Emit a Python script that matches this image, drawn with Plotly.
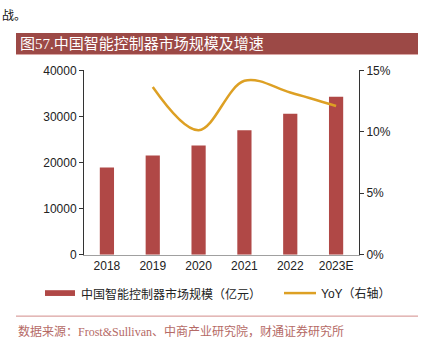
import plotly.graph_objects as go

years = ["2018", "2019", "2020", "2021", "2022", "2023E"]
market_size = [18900, 21500, 23700, 27000, 30600, 34300]
yoy_years = ["2019", "2020", "2021", "2022", "2023E"]
yoy = [0.1365, 0.1013, 0.1415, 0.132, 0.121]

W, H = 431, 350
def px(x):
    return x / W
def py(y):
    return 1 - y / H

bar_color = "#B04846"
line_color = "#DDA024"

fig = go.Figure()
fig.add_trace(go.Bar(x=years, y=market_size, marker=dict(color=bar_color, line=dict(width=0)),
                     name="中国智能控制器市场规模（亿元）", showlegend=False))
fig.add_trace(go.Scatter(x=yoy_years, y=yoy, yaxis="y2", mode="lines",
                         line=dict(color=line_color, width=2.5, shape="spline", smoothing=1.0),
                         name="YoY（右轴）", showlegend=False))

tick_font = dict(family="Liberation Sans, Arial, sans-serif", size=12, color="#222")

fig.update_layout(
    width=W, height=H,
    margin=dict(l=0, r=0, t=0, b=0),
    paper_bgcolor="white", plot_bgcolor="white",
    bargap=0.69,
    xaxis=dict(domain=[px(84), px(359)], showgrid=False, showline=True, linecolor="#A0A0A0",
               linewidth=1, ticks="", tickfont=tick_font, anchor="y"),
    yaxis=dict(domain=[py(258), py(66)], range=[0, 40000], dtick=10000, tickformat="d", showgrid=False,
               showline=True, linecolor="#333", linewidth=1, ticks="outside", ticklen=4,
               tickcolor="#333", tickfont=tick_font, zeroline=False, anchor="x"),
    yaxis2=dict(range=[0, 0.15], dtick=0.05, tickformat=".0%", overlaying="y", side="right",
                showgrid=False, showline=True, linecolor="#333", linewidth=1, ticks="outside",
                ticklen=4, tickcolor="#333", tickfont=tick_font, zeroline=False, anchor="x"),
    showlegend=False,
)

shapes = []
# title banner
shapes.append(dict(type="rect", xref="paper", yref="paper", x0=px(16), x1=px(418), y0=py(49), y1=py(27),
                   fillcolor="#9C4946", line=dict(width=0), layer="below"))
shapes.append(dict(type="line", xref="paper", yref="paper", x0=px(16), x1=px(418), y0=py(49.5), y1=py(49.5),
                   line=dict(color="#D9A5A3", width=1)))
# legend swatches
shapes.append(dict(type="rect", xref="paper", yref="paper", x0=px(45), x1=px(75), y0=py(301), y1=py(295),
                   fillcolor=bar_color, line=dict(width=0)))
shapes.append(dict(type="line", xref="paper", yref="paper", x0=px(284), x1=px(316), y0=py(298), y1=py(298),
                   line=dict(color=line_color, width=2.5)))
# bottom separator
shapes.append(dict(type="line", xref="paper", yref="paper", x0=px(16), x1=px(418), y0=py(322), y1=py(322),
                   line=dict(color="#D28C8A", width=1)))

annotations = []
annotations.append(dict(text="战。", xref="paper", yref="paper", x=0, y=py(8), xanchor="left",
                        yanchor="middle", showarrow=False,
                        font=dict(family="Noto Sans CJK SC", size=12, color="#111")))
annotations.append(dict(text="图57.中国智能控制器市场规模及增速", xref="paper", yref="paper", x=px(18), y=py(38),
                        xanchor="left", yanchor="middle", showarrow=False,
                        font=dict(family="Liberation Serif, Noto Sans CJK SC", size=15, color="white")))
annotations.append(dict(text="中国智能控制器市场规模（亿元）", xref="paper", yref="paper", x=px(79), y=py(298),
                        xanchor="left", yanchor="middle", showarrow=False,
                        font=dict(family="Noto Sans CJK SC", size=12, color="#222")))
annotations.append(dict(text="YoY（右轴）", xref="paper", yref="paper", x=px(319), y=py(298),
                        xanchor="left", yanchor="middle", showarrow=False,
                        font=dict(family="Liberation Sans, Noto Sans CJK SC", size=12, color="#222")))
annotations.append(dict(text="数据来源：Frost&Sullivan、中商产业研究院，财通证券研究所", xref="paper", yref="paper",
                        x=px(16), y=py(338), xanchor="left", yanchor="middle", showarrow=False,
                        font=dict(family="Liberation Serif, Noto Sans CJK SC", size=12, color="#B56A66")))

fig.update_layout(shapes=shapes, annotations=annotations)
fig.write_html("out.html")
